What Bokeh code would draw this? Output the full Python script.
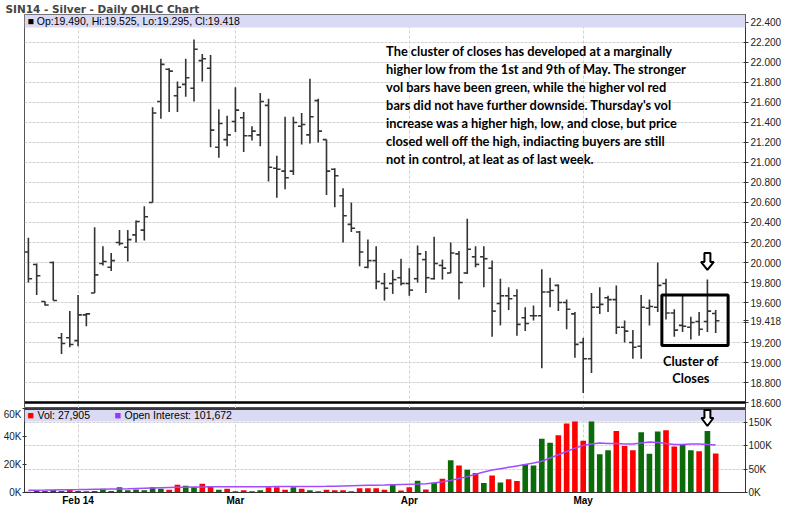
from bokeh.plotting import figure
from bokeh.models import (Range1d, LinearAxis, FixedTicker, Label, BoxAnnotation,
                          Span, Grid, PrintfTickFormatter, PolyAnnotation)
from bokeh.layouts import column
from bokeh.embed import file_html
from bokeh.resources import INLINE

# ---------------- data ----------------
opens = [20.105, 19.980, 19.610, 20.000, 19.248, 19.248, 19.219, 19.476, 19.695, 19.990,
         19.952, 20.200, 20.152, 20.276, 20.324, 20.600, 21.610, 21.933, 21.667, 21.781,
         21.743, 22.019, 21.943, 21.152, 21.229, 21.410, 21.448, 21.267, 21.276, 21.571,
         20.943, 20.914, 20.914, 21.362, 21.276, 21.619, 21.229, 20.933, 20.667, 20.381,
         20.305, 19.952, 20.019, 19.790, 19.790, 19.848, 19.790, 19.838, 20.029, 19.838,
         19.971, 19.895, 20.086, 19.895, 20.057, 20.057, 19.943, 19.590, 19.667, 19.667,
         19.448, 19.467, 19.467, 19.705, 19.771, 19.600, 19.486, 19.200, 19.038, 19.552,
         19.648, 19.629, 19.352, 19.200, 19.162, 19.543, 19.552, 19.790, 19.495, 19.371,
         19.352, 19.410, 19.410, 19.490]
highs = [20.248, 19.990, 19.612, 20.010, 19.295, 19.514, 19.676, 19.495, 20.352, 20.162,
         20.095, 20.324, 20.324, 20.419, 20.562, 21.552, 22.038, 21.943, 21.810, 22.038,
         22.229, 22.086, 22.076, 21.533, 21.467, 21.752, 21.505, 21.362, 21.695, 21.638,
         21.067, 21.457, 21.457, 21.495, 21.838, 21.638, 21.229, 20.943, 20.743, 20.600,
         20.314, 20.229, 20.162, 19.895, 19.924, 20.038, 19.943, 20.171, 20.114, 20.257,
         20.029, 20.200, 20.114, 20.438, 20.162, 20.162, 20.019, 19.838, 19.752, 19.733,
         19.552, 19.571, 19.933, 19.848, 19.781, 19.629, 19.505, 19.248, 19.695, 19.752,
         19.667, 19.771, 19.419, 19.324, 19.676, 19.629, 20.000, 19.838, 19.533, 19.667,
         19.457, 19.505, 19.829, 19.525]
lows = [19.800, 19.676, 19.571, 19.619, 19.086, 19.152, 19.162, 19.362, 19.695, 19.971,
        19.914, 20.171, 20.010, 20.200, 20.219, 20.600, 21.438, 21.505, 21.505, 21.657,
        21.610, 21.810, 21.152, 21.048, 21.162, 21.305, 21.105, 21.219, 21.162, 20.810,
        20.648, 20.733, 20.876, 21.181, 21.190, 21.200, 20.676, 20.552, 20.200, 20.305,
        19.962, 19.943, 19.733, 19.619, 19.686, 19.771, 19.667, 19.800, 19.695, 19.829,
        19.829, 19.895, 19.629, 19.886, 19.952, 19.752, 19.257, 19.371, 19.524, 19.267,
        19.314, 19.419, 18.943, 19.552, 19.514, 19.333, 19.048, 18.695, 18.895, 19.486,
        19.505, 19.286, 19.200, 19.038, 19.038, 19.371, 19.505, 19.429, 19.257, 19.305,
        19.229, 19.267, 19.305, 19.295]
closes = [19.838, 19.867, 19.575, 19.620, 19.190, 19.180, 19.476, 19.486, 19.876, 20.010,
          20.019, 20.190, 20.229, 20.410, 20.457, 21.495, 21.981, 21.914, 21.752, 21.848,
          22.133, 22.038, 21.324, 21.390, 21.276, 21.524, 21.267, 21.314, 21.610, 20.952,
          20.933, 20.848, 21.400, 21.380, 21.457, 21.314, 20.914, 20.867, 20.467, 20.343,
          20.105, 20.019, 19.810, 19.743, 19.829, 19.790, 19.724, 20.086, 19.848, 19.990,
          19.943, 20.095, 19.800, 20.133, 19.981, 20.038, 19.514, 19.667, 19.638, 19.381,
          19.390, 19.467, 19.705, 19.720, 19.600, 19.533, 19.181, 19.038, 19.552, 19.581,
          19.629, 19.352, 19.314, 19.152, 19.552, 19.560, 19.771, 19.495, 19.324, 19.362,
          19.400, 19.333, 19.514, 19.418]
vol_k = [0.6, 1.1, 1.1, 1.8, 1.1, 2.0, 1.1, 0.9, 1.1, 2.7,
         1.1, 3.8, 1.6, 2.2, 1.6, 3.8, 2.7, 2.0, 5.6, 4.9,
         3.8, 6.3, 4.5, 2.0, 2.7, 0.9, 1.6, 0.9, 1.6, 3.8,
         3.8, 2.0, 3.8, 2.7, 1.6, 0.9, 2.0, 1.6, 1.6, 0.9,
         3.1, 3.1, 3.1, 2.0, 5.4, 1.5, 3.7, 8.4, 2.2, 7.2,
         9.9, 23.0, 19.3, 16.2, 14.0, 6.7, 12.1, 7.2, 9.4, 8.3,
         20.4, 19.3, 38.4, 35.5, 40.9, 49.2, 51.0, 36.9, 52.1, 27.4,
         30.1, 44.0, 33.2, 30.1, 43.1, 27.6, 43.6, 44.5, 32.8, 34.2,
         30.1, 29.4, 44.0, 27.905]
oi_k = [5.0, 5.0, 5.2, 5.5, 5.8, 6.0, 6.2, 6.5, 6.8, 7.0,
        7.3, 7.6, 8.0, 8.5, 9.0, 9.5, 10.0, 10.5, 11.0, 11.5,
        12.0, 12.0, 12.2, 12.3, 12.3, 12.4, 12.4, 12.5, 12.5, 12.5,
        12.6, 12.6, 12.7, 12.8, 12.8, 13.0, 13.2, 13.5, 14.0, 14.5,
        15.0, 15.3, 15.6, 16.0, 16.5, 17.0, 17.5, 18.0, 19.0, 20.5,
        23.0, 26.0, 30.0, 34.0, 39.0, 44.0, 48.0, 51.0, 54.0, 57.0,
        60.0, 63.0, 67.0, 74.0, 81.0, 88.0, 95.0, 101.0, 104.0, 106.0,
        105.0, 105.0, 104.0, 104.0, 106.0, 108.0, 107.0, 105.0, 103.0, 103.0,
        104.0, 104.0, 103.0, 101.672]

month_idx = [6, 25, 46, 67]
month_labels = ["Feb 14", "Mar", "Apr", "May"]
price_ticks = [18.6, 18.8, 19.0, 19.2, 19.4, 19.6, 19.8, 20.0, 20.2, 20.4,
               20.6, 20.8, 21.0, 21.2, 21.4, 21.6, 21.8, 22.0, 22.2, 22.4]
vol_ticks = [0, 20000, 40000, 60000]
oi_ticks = [0, 50000, 100000, 150000]

title_text = "SIN14 - Silver - Daily OHLC Chart"
note_text = ("The cluster of closes has developed at a marginally\n"
             "higher low from the 1st and 9th of May.  The stronger\n"
             "vol bars have been green, while the higher vol red\n"
             "bars did not have further downside.  Thursday's vol\n"
             "increase was a higher high, low, and close, but price\n"
             "closed well off the high, indiacting buyers are still\n"
             "not in control, at leat as of last week.")
cluster_text = "Cluster of\nCloses"

# ---------------- derived ----------------
n = len(closes)
xs = list(range(n))
volumes = [v * 1000 for v in vol_k]
oi = [v * 1000 for v in oi_k]
GREEN, RED = "#0b6b0b", "#ff0000"
vcolors = [GREEN if closes[i] >= (closes[i - 1] if i else opens[i]) else RED for i in range(n)]
last_close = closes[-1]

# ---------------- layout constants ----------------
W = 784
LB, RB = 22, 36
P_H, P_TOP = 408, 13
V_H, V_BOT = 100, 16
P_FRAME = P_H - P_TOP
V_FRAME = V_H - V_BOT
FRAME_W = W - LB - RB
AX_FONT = "Liberation Sans"
BAND = "#dadaf4"

xr = Range1d(-0.47, 86.6)
xpx = (xr.end - xr.start) / FRAME_W
ppx = (22.4 - 18.6) / (P_FRAME - 6 - 8)
y0, y1 = 18.6 - 6 * ppx, 22.4 + 8 * ppx


def arrow(cx, top, dx, dy, wh=13, ws=6, hs=9, hh=8):
    ax = [cx - ws / 2 * dx, cx + ws / 2 * dx, cx + ws / 2 * dx, cx + wh / 2 * dx, cx,
          cx - wh / 2 * dx, cx - ws / 2 * dx]
    ay = [top, top, top - hs * dy, top - hs * dy, top - (hs + hh) * dy, top - hs * dy, top - hs * dy]
    return PolyAnnotation(xs=ax, ys=ay, fill_color="white", fill_alpha=1.0,
                          line_color="black", line_alpha=1.0, line_width=2)


# ---------------- price panel ----------------
p = figure(width=W, height=P_H, x_range=xr, y_range=Range1d(y0, y1),
           output_backend="svg", toolbar_location=None,
           min_border_left=LB, min_border_right=RB, min_border_top=P_TOP, min_border_bottom=0,
           x_axis_location=None, y_axis_location="right")
p.title.text = title_text
p.title.text_font = "DejaVu Sans"
p.title.text_font_size = "10.5px"
p.title.text_font_style = "bold"
p.title.align = "left"
p.title.offset = -19
p.title.standoff = 0
p.background_fill_color = "white"
p.border_fill_color = "white"
p.outline_line_color = "#555555"

ya = p.yaxis[0]
ya.ticker = FixedTicker(ticks=price_ticks + [last_close])
ya.formatter = PrintfTickFormatter(format="%.3f")
ya.major_label_overrides = {19.4: ""}
ya.major_label_text_font = AX_FONT
ya.major_label_text_font_size = "10px"
ya.major_label_text_color = "#222222"
ya.axis_line_color = "#333333"
ya.major_tick_line_color = "#333333"
ya.major_tick_in = 2
ya.major_tick_out = 3
ya.minor_tick_line_color = None
ya.minor_tick_out = 0
ya.major_label_standoff = 2

p.ygrid.ticker = FixedTicker(ticks=price_ticks)
p.ygrid.grid_line_color = "#d2d2d2"
p.ygrid.grid_line_dash = "3 1"
p.xgrid.ticker = FixedTicker(ticks=month_idx)
p.xgrid.grid_line_color = "#d6cdd6"
p.xgrid.grid_line_dash = "3 2"

bar_col = "#333333"
p.segment(x0=xs, y0=lows, x1=xs, y1=highs, line_color=bar_col, line_width=1.6)
p.segment(x0=[x - 0.45 for x in xs], y0=opens, x1=xs, y1=opens, line_color=bar_col, line_width=1.6)
p.segment(x0=xs, y0=closes, x1=[x + 0.45 for x in xs], y1=closes, line_color=bar_col, line_width=1.6)

p.add_layout(Span(location=18.6, dimension="width", line_color="black", line_width=2.5))

# legend band
p.add_layout(BoxAnnotation(bottom=y1 - 13 * ppx, top=y1, fill_color=BAND, fill_alpha=1.0,
                           line_color=None))
p.add_layout(Label(x=xr.start, y=y1 - 6.5 * ppx, x_offset=3,
                   text="\u25a0 Op:%.3f, Hi:%.3f, Lo:%.3f, Cl:%.3f" % (opens[-1], highs[-1], lows[-1], closes[-1]),
                   text_font=AX_FONT, text_font_size="10.5px", text_baseline="middle", text_color="black"))

# commentary
p.add_layout(Label(x=43.2, y=22.19, text=note_text, text_font="Lato", text_font_style="bold",
                   text_font_size="12.8px", text_baseline="top", text_align="left",
                   text_line_height=1.12, text_color="black"))
# cluster box
p.add_layout(BoxAnnotation(left=76.5, right=84.5, bottom=19.171, top=19.676, fill_alpha=0,
                           line_color="black", line_alpha=1.0, line_width=3))
p.add_layout(Label(x=80, y=19.10, text=cluster_text, text_font="Lato", text_font_style="bold",
                   text_font_size="12.8px", text_baseline="top", text_align="center",
                   text_line_height=1.1, text_color="black"))
# arrow above Thursday's bar
p.add_layout(arrow(82, 20.095, xpx, ppx))

# ---------------- volume panel ----------------
v_top_oi = 150000 * V_FRAME / 70.0
vpx = 60000 / V_FRAME
v = figure(width=W, height=V_H, x_range=xr, y_range=Range1d(0, 60000),
           output_backend="svg", toolbar_location=None,
           min_border_left=LB, min_border_right=RB, min_border_top=0, min_border_bottom=V_BOT,
           y_axis_location="left")
v.background_fill_color = "white"
v.border_fill_color = "white"
v.outline_line_color = "#555555"
v.extra_y_ranges = {"oi": Range1d(0, v_top_oi)}

la = v.yaxis[0]
la.ticker = FixedTicker(ticks=vol_ticks)
la.major_label_overrides = {t: "%dK" % (t // 1000) for t in vol_ticks}
ra = LinearAxis(y_range_name="oi", ticker=FixedTicker(ticks=oi_ticks))
ra.major_label_overrides = {t: "%dK" % (t // 1000) for t in oi_ticks}
v.add_layout(ra, "right")
for a in (la, ra):
    a.major_label_text_font = AX_FONT
    a.major_label_text_font_size = "10px"
    a.major_label_text_color = "#222222"
    a.axis_line_color = "#333333"
    a.major_tick_line_color = "#333333"
    a.major_tick_in = 2
    a.major_tick_out = 2
    a.minor_tick_line_color = None
    a.minor_tick_out = 0
    a.major_label_standoff = 1

xa = v.xaxis[0]
xa.ticker = FixedTicker(ticks=month_idx)
xa.major_label_overrides = dict(zip(month_idx, month_labels))
xa.major_label_text_font = AX_FONT
xa.major_label_text_font_size = "10px"
xa.major_label_text_font_style = "bold"
xa.major_label_text_color = "black"
xa.axis_line_color = "#333333"
xa.major_tick_line_color = None
xa.major_tick_out = 0
xa.major_tick_in = 0
xa.minor_tick_line_color = None
xa.minor_tick_out = 0
xa.major_label_standoff = 2

v.ygrid.visible = False
v.add_layout(Grid(dimension=1, ticker=FixedTicker(ticks=oi_ticks), y_range_name="oi",
                  grid_line_color="#d2d2d2", grid_line_dash="3 1"))
v.xgrid.ticker = FixedTicker(ticks=month_idx)
v.xgrid.grid_line_color = "#d6cdd6"
v.xgrid.grid_line_dash = "3 2"

v.vbar(x=xs, top=volumes, width=0.68, fill_color=vcolors, line_color=None)
v.line(x=xs, y=oi, y_range_name="oi", line_color="#a24bff", line_width=1.5)

v.add_layout(BoxAnnotation(bottom=60000 - 13 * vpx, top=60000, fill_color=BAND, fill_alpha=1.0,
                           line_color=None))
v.add_layout(Span(location=60000, dimension="width", line_color="black", line_width=2.5))
ly = 60000 - 6.5 * vpx
v.add_layout(Label(x=xr.start, y=ly, x_offset=3, text="\u25a0",
                   text_font=AX_FONT, text_font_size="11px", text_baseline="middle", text_color=RED))
v.add_layout(Label(x=xr.start, y=ly, x_offset=13, text="Vol: {:,}".format(int(round(volumes[-1]))),
                   text_font=AX_FONT, text_font_size="10.5px", text_baseline="middle", text_color="black"))
v.add_layout(Label(x=xr.start, y=ly, x_offset=90, text="\u25a0",
                   text_font=AX_FONT, text_font_size="11px", text_baseline="middle", text_color="#9933ff"))
v.add_layout(Label(x=xr.start, y=ly, x_offset=100,
                   text="Open Interest: {:,}".format(int(round(oi[-1]))),
                   text_font=AX_FONT, text_font_size="10.5px", text_baseline="middle", text_color="black"))
v.add_layout(arrow(82, 60000 - 1.5 * vpx, xpx, vpx, wh=12, ws=6, hs=8, hh=8))

layout = column(p, v, spacing=0)
open("out.html", "w").write(file_html(layout, INLINE))
